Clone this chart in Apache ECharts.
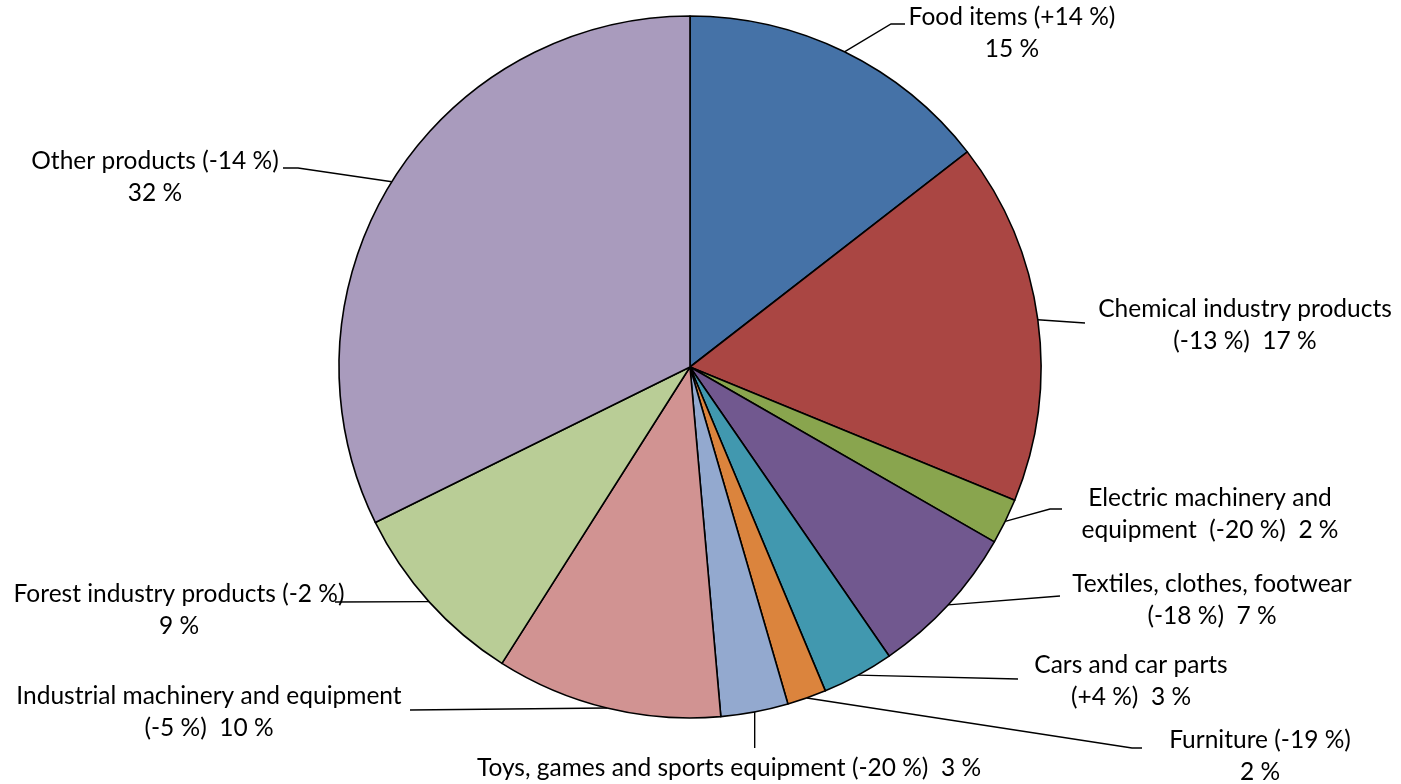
<!DOCTYPE html>
<html>
<head>
<meta charset="utf-8">
<script src="https://cdn.jsdelivr.net/npm/echarts@6/dist/echarts.min.js"></script>
<style>
html,body{margin:0;padding:0;background:#fff;}
#chart{width:1401px;height:784px;}
</style>
</head>
<body>
<div id="chart"></div>
<script>
// ---- data ----
const categories = ['Food items', 'Chemical industry products', 'Electric machinery and equipment',
  'Textiles, clothes, footwear', 'Cars and car parts', 'Furniture',
  'Toys, games and sports equipment', 'Industrial machinery and equipment',
  'Forest industry products', 'Other products'];
const shares = [14.5, 16.7, 2.1, 7.1, 3.3, 1.8, 3.1, 10.4, 8.7, 32.3];
const changes = ['+14 %', '-13 %', '-20 %', '-18 %', '+4 %', '-19 %', '-20 %', '-5 %', '-2 %', '-14 %'];
// label text templates ({c} = change, {p} = share)
const labelTemplates = [
  'Food items ({c})\n{p}',
  'Chemical industry products\n({c})  {p}',
  'Electric machinery and\nequipment  ({c})  {p}',
  'Textiles, clothes, footwear\n({c})  {p}',
  'Cars and car parts\n({c})  {p}',
  'Furniture ({c})\n{p}',
  'Toys, games and sports equipment ({c})  {p}',
  'Industrial machinery and equipment\n({c})  {p}',
  'Forest industry products ({c})\n{p}',
  'Other products ({c})\n{p}'
];

// ---- layout / style (not data) ----
const colors = ['#4572A7', '#AA4643', '#89A54E', '#71588F', '#4198AF', '#DB843D',
  '#93A9CF', '#D19392', '#B9CD96', '#A99BBD'];
// [text center x, first line center y, extra leader-line points (null x = same as start)]
const labelPos = [
  [1012, 17, [[891, 24], [905, 24]]],
  [1245, 309, [[1085, 323]]],
  [1210, 498, [[1050, 509], [1062, 509]]],
  [1212, 584, [[1060, 596]]],
  [1131, 665, [[1018, 679]]],
  [1260, 740, [[1132, 748], [1142, 748]]],
  [729, 768, [[null, 748]]],
  [209, 696, [[410, 710]]],
  [179, 594, [[335, 602]]],
  [155, 161, [[298, 168], [283, 168]]]
];
const FS = 24.5, LH = 32.5;

const chart = echarts.init(document.getElementById('chart'), null, {renderer: 'canvas'});
chart.setOption({
  backgroundColor: '#ffffff',
  animation: false,
  color: colors,
  series: [{
    type: 'pie',
    center: [690, 367],
    radius: 351,
    startAngle: 90,
    clockwise: true,
    avoidLabelOverlap: false,
    itemStyle: {borderColor: '#000', borderWidth: 1.6},
    emphasis: {disabled: true},
    label: {
      show: true,
      position: 'outside',
      color: '#000',
      fontFamily: 'Lato',
      fontSize: FS,
      lineHeight: LH,
      align: 'center',
      formatter: function (p) {
        const i = p.dataIndex;
        return labelTemplates[i].replace('{c}', changes[i]).replace('{p}', Math.round(shares[i]) + ' %');
      }
    },
    labelLine: {show: true, smooth: false, length: 10, length2: 10, lineStyle: {color: '#000', width: 1.4}},
    labelLayout: function (params) {
      const i = params.dataIndex;
      const lp = labelPos[i];
      const start = params.labelLinePoints ? params.labelLinePoints[0] : null;
      const out = {x: lp[0], y: lp[1] - LH / 2, align: 'center', verticalAlign: 'top'};
      if (start) {
        const pts = [[start[0], start[1]]].concat(lp[2].map(p => [p[0] === null ? start[0] : p[0], p[1]]));
        while (pts.length < 3) pts.splice(1, 0, pts[1].slice());
        out.labelLinePoints = pts;
      }
      return out;
    },
    data: categories.map((c, i) => ({name: c, value: shares[i]}))
  }]
});
</script>
</body>
</html>
